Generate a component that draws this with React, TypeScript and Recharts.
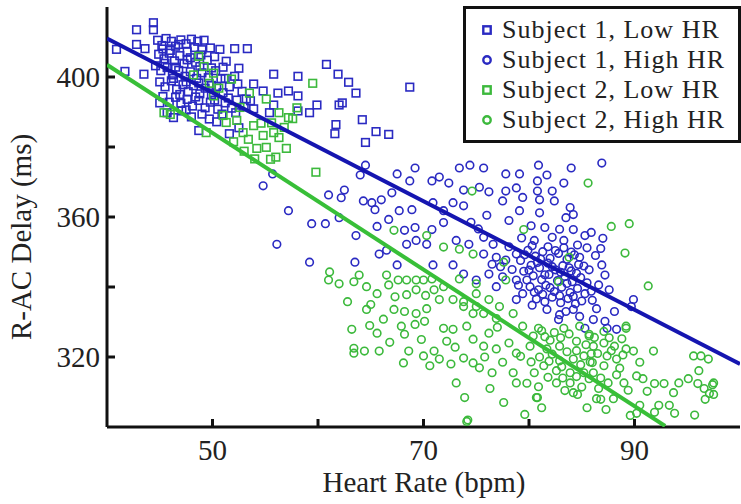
import { ComposedChart, Scatter, XAxis, YAxis } from 'recharts';

const xTicks = [50, 60, 70, 80, 90];
const yTicks = [320, 340, 360, 380, 400];
const xLabelTicks = [50, 70, 90];
const yLabelTicks = [320, 360, 400];

const seriesNames = ['Subject 1, Low HR', 'Subject 1, High HR', 'Subject 2, Low HR', 'Subject 2, High HR'];

// [heart rate, delay]
const s1Low = [
  [40.9, 407.9], [41.7, 401.6], [42.8, 413.5], [42.8, 409.3], [43.6, 408.1], [43.5, 400.8], [44.4, 415.5], [44.4, 413.5],
  [44.8, 410.5], [45.2, 409], [45.6, 411], [46.1, 410.2], [46.5, 408.8], [47.0, 410.6], [47.5, 409.5], [48.0, 410.8], [48.6, 410.2], [49.2, 410.5], [49.8, 408.3],
  [44.9, 406.5], [45.4, 405.2], [45.9, 406.8], [46.4, 404.6], [46.9, 406.1], [47.3, 403.8], [47.9, 405.5], [48.4, 404.2], [48.9, 406.3], [49.5, 404.8], [50.2, 405.8],
  [44.6, 403.2], [45.1, 401.8], [45.7, 402.7], [46.2, 400.6], [46.8, 401.9], [47.4, 400.2], [47.9, 401.5], [48.5, 399.6], [49.0, 401.2], [49.6, 399.8], [50.3, 401.8], [50.8, 399.5],
  [45.0, 398.6], [45.5, 397.2], [46.1, 398.9], [46.6, 396.5], [47.2, 397.8], [47.7, 395.8], [48.2, 397.5], [48.8, 395.2], [49.3, 396.8], [49.9, 394.9], [50.4, 397.3], [51.0, 395.5], [51.6, 397.2],
  [45.3, 394.4], [45.9, 392.8], [46.5, 394.2], [47.0, 392.5], [47.6, 393.6], [48.1, 391.7], [48.7, 393.3], [49.3, 391.2], [49.8, 392.8], [50.5, 390.8], [51.2, 392.6], [51.8, 391.1], [52.3, 393.4],
  [45.0, 392.6], [45.7, 389.8], [46.3, 388.4], [47.1, 390.3], [48.0, 388.6], [48.7, 384.7], [49.7, 388], [50.4, 387.2],
  [45.3, 408.0], [46.0, 407.6], [46.8, 409.3], [47.6, 407.2], [48.3, 408.4], [49.0, 407.8], [45.5, 403.9], [46.5, 402.8], [47.6, 404.9], [48.8, 403.0],
  [49.9, 402.6], [51.0, 402.8], [46.3, 399.6], [47.5, 398.6], [48.7, 398.3], [49.9, 397.6], [51.2, 399.6], [52.4, 398.0], [46.9, 395.0], [48.4, 394.3],
  [50.2, 393.4], [51.5, 394.0], [52.8, 395.9], [53.6, 393.2], [47.5, 390.6], [49.0, 389.4], [50.9, 389.4], [52.2, 389.8], [53.0, 391.6],
  [50.7, 407.9], [51.3, 404.5], [52.1, 408.1], [53.3, 408.1], [52.5, 402.5], [52.1, 400.2], [53.9, 398], [54.8, 396], [53.2, 393.7], [53.9, 390.9], [52.5, 385.5], [51.6, 383.8],
  [55.8, 400.8], [58.1, 400.2], [57.2, 396], [56.2, 395.4], [58.1, 394.6], [55.8, 392], [59.2, 389.8], [58.1, 390.3], [55.4, 389.8],
  [60.8, 403.6], [61.9, 400.8], [62.9, 398.5], [63.6, 395.4], [62.0, 392.0], [62.3, 392.6], [59.9, 392.0], [61.7, 386.4], [61.6, 383.8],
  [64.2, 387.8], [65.5, 384.4], [66.7, 383.6], [64.5, 381.3], [68.7, 397.1],
];

const s2Low = [
  [45.4, 389.8], [46.0, 389.3], [48.7, 405.9], [49.2, 403], [50.1, 401.1], [49.7, 398.2], [50.1, 394.6], [49.4, 384.1], [51.0, 389], [51.3, 387],
  [52.3, 387.6], [52.9, 384.1], [53.9, 386.1], [54.8, 383.3], [54.2, 379.6], [55.1, 379.9], [56.0, 377.1], [57.0, 379.6], [56.3, 382.7], [55.8, 384.1],
  [55.1, 393.7], [56.3, 389.8], [57.2, 388.4], [57.6, 388.1], [59.5, 398.2], [59.8, 372.8], [53.5, 395.4], [52.0, 381.5], [53.0, 378.8], [54.6, 386.8],
  [56.8, 385.6], [58.0, 391.2], [50.6, 396.8], [51.8, 399.4], [48.2, 400.6], [55.5, 376.5], [53.4, 382.2], [54.0, 376.6], [55.6, 386.9], [52.6, 391.3],
];

const s1High = [
  [54.8, 368.9], [55.7, 372.3], [56.1, 352.2], [57.2, 361.8], [59.2, 347.1], [59.4, 358.1], [60.7, 358.1], [61.0, 366.3], [62.0, 359.8], [62.2, 365.5],
  [62.5, 367.7], [63.5, 347.1], [63.6, 354.7], [64.0, 372], [64.5, 374.8],
  [64.3, 364.6], [65.1, 364.1], [66.0, 364.9], [65.4, 362.1], [67.0, 366.9], [67.5, 372.3], [68.7, 370.3], [69.2, 374], [70.8, 370.3], [71.5, 371.4],
  [72.4, 369.7], [73.4, 374], [74.4, 374.8], [75.7, 374], [77.8, 372.3], [79.1, 372.3], [73.8, 367.7], [75.3, 368.5], [76.2, 367.2], [77.8, 367.4],
  [67.7, 361.8], [68.9, 362.1], [70.9, 364.1], [71.9, 361.8], [72.8, 364.1], [73.8, 363.2], [65.6, 357.3], [66.7, 359.3], [68.2, 356.2], [69.2, 357],
  [70.8, 356.4], [71.9, 358.4], [68.4, 352.2], [69.3, 353.3], [70.3, 352.2], [65.8, 349.4], [66.5, 350.5], [67.5, 346.3], [70.9, 346.3], [72.8, 346.3],
  [73.1, 353.3], [74.3, 352.2], [75.7, 354.2], [76.6, 352.2], [75.7, 349.4], [76.9, 348.5], [77.8, 347.7], [78.8, 349.4], [78.1, 351.5], [76.2, 343.7],
  [77.5, 342.9], [78.8, 342], [79.4, 338.1], [78.8, 336.4], [76.9, 340.1], [75.0, 342], [73.8, 343.7], [78.1, 359], [79.1, 361.8], [77.5, 364.6],
  [78.8, 368.3], [79.4, 365.6], [74.5, 358.5], [76.0, 360.5], [75.2, 356.6],
  [80.9, 374.8], [84.0, 374], [86.9, 375.4], [81.7, 372], [83.3, 369.7], [80.8, 370.3], [80.8, 367.4], [82.2, 367.4], [81.0, 364.9], [82.4, 364.6],
  [83.9, 362.7], [84.2, 360.7], [83.5, 359.8], [81.0, 361.2], [81.5, 357], [82.2, 354.2], [84.2, 356.4], [85.3, 354.7], [85.9, 355.6], [87.0, 353.9],
  [83.3, 353.3], [80.5, 353.3],
  [79.9, 350.5], [80.6, 348.8], [81.3, 350.1], [82.0, 348.2], [82.8, 349.6], [83.6, 347.9], [84.3, 349.2], [80.2, 346.2], [81.0, 345.5], [81.8, 346.8],
  [82.5, 344.9], [83.2, 346.1], [84.0, 344.6], [84.7, 346.4], [80.4, 343.2], [81.2, 342.1], [81.9, 343.6], [82.7, 341.8], [83.4, 343.0], [84.1, 341.5],
  [84.9, 342.7], [80.1, 340.1], [80.9, 339.2], [81.6, 340.5], [82.4, 338.7], [83.1, 339.9], [83.9, 338.4], [84.6, 339.6], [85.3, 338.1], [80.7, 336.6],
  [81.5, 335.8], [82.2, 337.1], [83.0, 335.5], [83.7, 336.7], [84.4, 335.2], [79.5, 344.5], [79.2, 347.6],
  [79.6, 349.2], [80.3, 351.8], [81.1, 348.0], [81.8, 351.5], [82.5, 350.4], [83.3, 351.2], [84.0, 350.0], [84.8, 348.5], [85.2, 346.0], [80.0, 344.8],
  [80.8, 347.0], [81.5, 343.5], [82.2, 345.8], [83.0, 344.2], [83.8, 345.5], [84.5, 343.9], [85.5, 341.2], [79.8, 342.0], [80.5, 338.5], [81.3, 337.9],
  [82.0, 339.8], [82.9, 337.5], [83.6, 341.0], [84.2, 337.3], [85.0, 336.0], [79.0, 340.5], [78.4, 345.0], [77.3, 345.8], [76.5, 346.5], [85.9, 338.8],
  [86.4, 333.8], [83.5, 333.0], [80.3, 334.8], [79.3, 354.0], [80.2, 357.5], [82.9, 356.5], [84.6, 352.0], [86.8, 351.0],
  [85.7, 344.9], [86.9, 346.3], [87.2, 343.4], [86.6, 340.6], [87.6, 339.2], [89.9, 336.4], [89.7, 334.4], [88.1, 333], [87.2, 330.2], [87.4, 328.2],
  [88.3, 327.9], [86.1, 330.7], [85.3, 328.2], [84.8, 331.6], [84.2, 333.6], [82.9, 332.1], [81.7, 333.6], [82.8, 330.7], [86.0, 336.2], [85.5, 351.2],
  [86.3, 349.0],
];

const s2High = [
  [67.2, 356.2], [70.3, 354.7], [71.9, 351.4], [73.4, 350.8], [74.7, 349.4], [74.6, 367.4], [77.6, 347.1], [77.8, 342], [75.0, 340.9], [79.5, 356.4],
  [85.6, 369.7], [87.8, 357.3], [89.5, 358.1], [89.1, 349.7], [91.3, 340.3], [83.8, 348.5], [82.8, 341.5], [85.7, 326], [89.2, 328.2],
  [61.1, 344.3], [61.0, 342], [62.0, 340.9], [63.4, 341.5], [63.9, 343.4], [64.6, 340.1], [65.6, 338.1], [66.5, 343.4], [67.6, 342], [68.4, 342],
  [69.3, 342], [70.0, 342], [70.8, 342.3], [71.9, 340.1], [73.4, 342.3], [66.7, 340.6], [67.3, 337.2], [68.4, 337.8], [69.3, 339.2], [70.2, 337.6],
  [71.0, 339.2], [64.6, 333.6], [67.2, 333.6], [68.2, 333], [69.3, 332.4], [70.3, 333.8], [71.5, 336.4], [72.8, 336.4], [73.8, 335.8], [63.2, 327.9],
  [64.9, 329], [65.6, 326.8], [67.9, 328.8], [69.2, 329.3], [70.1, 330.2], [71.9, 328.2], [72.8, 327.9], [74.1, 328.8], [68.2, 326.5], [63.4, 322.5],
  [63.4, 321.1], [64.4, 321.7], [65.8, 321.7], [68.6, 321.7], [70.0, 320.3], [71.0, 321.7], [71.5, 319.4], [68.1, 318.3], [72.6, 318], [73.8, 319.7],
  [74.7, 318.3], [75.3, 316.9], [73.1, 312.6], [73.9, 308.4], [74.2, 302], [77.6, 307], [78.8, 312.6], [74.7, 325.1], [75.7, 323.1], [76.9, 322.3],
  [76.2, 326.8], [76.9, 331], [75.7, 332.4], [75.0, 334.4], [78.1, 324], [78.8, 321.1], [78.5, 315.5], [75.0, 338.1], [76.2, 336.4], [77.2, 334.4],
  [78.5, 332.4], [79.4, 328.8], [74.7, 332.4], [73.8, 334.4], [80.7, 308.4], [79.6, 303.6], [74.1, 301.6],
  [80.9, 328.2], [80.1, 323.1], [81.7, 322.3], [82.9, 323.1], [82.9, 318.9], [84.2, 319.4], [85.2, 320.3], [86.1, 323.1], [87.1, 324], [88.1, 323.1],
  [89.2, 322.3], [89.9, 321.7], [87.4, 320.3], [88.3, 319.4], [87.1, 317.5], [86.1, 315.5], [85.2, 315.5], [83.9, 315.5], [82.6, 316.1], [81.4, 317.5],
  [80.5, 315.5], [82.6, 312.6], [83.9, 312.6], [85.7, 313.8], [86.6, 311], [87.5, 312.6], [86.4, 308.1], [89.0, 312.6], [90.2, 314.6], [90.8, 313.8],
  [91.9, 312.4], [92.8, 312.4], [93.7, 309.8], [94.2, 312.6], [95.1, 313.8], [96.0, 312.4], [96.6, 311], [97.5, 312.6], [97.1, 309.6], [95.6, 320.3],
  [96.3, 320.3], [97.0, 319.4], [96.1, 316.1], [91.8, 321.7], [89.2, 328.8], [80.8, 308.4], [90.5, 306.2], [92.3, 306.2], [93.3, 306.2], [93.8, 303.9],
  [95.7, 303.4], [90.2, 303.9], [91.9, 304.2], [88.0, 308.1], [84.2, 309.8], [83.4, 310.4], [84.6, 309.3], [86.8, 307.9], [89.6, 303.3], [85.7, 326.5],
  [84.8, 328.8], [87.1, 327.3], [83.3, 328.2], [81.5, 325.8], [82.2, 320.8], [83.6, 321.5], [84.9, 317.8], [85.8, 318.6], [83.0, 325.5], [86.5, 321.0],
  [88.6, 316.8], [97.4, 312.1], [97.5, 309.3], [96.7, 307.9],
  [80.4, 326.0], [81.2, 327.5], [82.0, 324.8], [82.4, 327.0], [83.8, 326.6], [84.5, 324.5], [85.4, 323.5], [86.2, 325.6], [87.6, 325.5], [88.8, 325.2],
  [81.0, 320.0], [81.9, 318.8], [83.1, 317.2], [84.5, 321.8], [85.9, 320.9], [87.8, 321.8], [88.9, 320.6], [90.5, 318.5], [80.2, 318.6], [81.8, 314.2],
  [83.2, 314.0], [84.5, 314.4], [86.8, 314.0], [88.3, 314.9], [89.4, 310.5], [91.2, 310.2], [79.2, 320.2], [79.8, 312.5], [80.9, 311.5], [85.0, 311.4],
  [86.0, 318.4], [77.5, 318.5], [77.0, 328.5], [76.5, 315.5], [75.8, 320.0], [73.0, 322.8], [72.2, 324.5], [69.8, 325.0], [66.8, 324.2], [66.2, 330.8],
  [65.0, 335.0], [62.8, 335.8], [70.6, 317.5], [76.3, 311.0], [81.2, 305.5], [85.5, 305.5], [87.3, 305.0],
];

// linear fits, end points
const s1Fit = [[40, 411], [100, 318]];
const s2Fit = [[40, 403.5], [92.9, 300.3]];

const BLUE = '#2a2ac2';
const BLUE_LINE = '#1515b0';
const GREEN = '#3cb93c';
const GREEN_LINE = '#38bf38';
const FONT = '"Liberation Serif", "Times New Roman", serif';
const FS = 29;
const LEGEND_FS = 26;

const toPts = (arr: number[][]) => arr.map(([x, y]) => ({ x, y }));

const square = (color: string) => (p: any) => (
  <rect x={p.cx - 3.8} y={p.cy - 3.8} width={7.6} height={7.6} fill="none" stroke={color} strokeWidth={1.6} />
);
const ring = (color: string) => (p: any) => (
  <circle cx={p.cx} cy={p.cy} r={3.8} fill="none" stroke={color} strokeWidth={1.6} />
);
const noDot = () => <g />;

const tickStyle = { fontSize: FS, fontFamily: FONT, fill: '#222' };

function Legend() {
  const marks = [
    { color: BLUE, sq: true },
    { color: BLUE, sq: false },
    { color: GREEN, sq: true },
    { color: GREEN, sq: false },
  ];
  return (
    <div
      style={{
        position: 'absolute', left: 463, top: 6, width: 278, height: 137, boxSizing: 'border-box',
        border: '3px solid #111', background: '#fff', padding: '6px 0 0 14px', fontFamily: FONT, fontSize: LEGEND_FS,
        color: '#222', lineHeight: '30px', letterSpacing: 1,
      }}
    >
      {seriesNames.map((n, i) => (
        <div key={n} style={{ display: 'flex', alignItems: 'center', whiteSpace: 'nowrap', height: 30 }}>
          <svg width={14} height={14} style={{ marginRight: 8, flex: 'none' }}>
            {marks[i].sq ? (
              <rect x={3.3} y={3.3} width={7.4} height={7.4} fill="none" stroke={marks[i].color} strokeWidth={2.4} />
            ) : (
              <circle cx={7} cy={7} r={3.7} fill="none" stroke={marks[i].color} strokeWidth={2.4} />
            )}
          </svg>
          {n}
        </div>
      ))}
    </div>
  );
}

export default function App() {
  return (
    <div style={{ position: 'absolute', left: 0, top: 0, width: 741, height: 504, background: '#fff' }}>
      <ComposedChart width={741} height={504} margin={{ top: 7, right: 1, bottom: 0, left: 0 }}>
        <XAxis
          xAxisId="top" orientation="top" type="number" domain={[40, 100]} height={0}
          tick={false} tickLine={false} axisLine={{ stroke: '#111', strokeWidth: 3 }}
        />
        <YAxis
          yAxisId="right" orientation="right" type="number" domain={[300, 420]} width={0}
          tick={false} tickLine={false} axisLine={{ stroke: '#111', strokeWidth: 3 }}
        />
        <XAxis
          dataKey="x" type="number" domain={[40, 100]} allowDataOverflow ticks={xTicks} height={77}
          tickSize={-8} tickMargin={20} tick={tickStyle}
          tickFormatter={(v: number) => (xLabelTicks.includes(v) ? String(v) : '')}
          axisLine={{ stroke: '#111', strokeWidth: 3 }} tickLine={{ stroke: '#111', strokeWidth: 3 }}
          label={{
            content: () => (
              <text x={424} y={492} textAnchor="middle" fontSize={FS} fontFamily={FONT} fill="#222">Heart Rate (bpm)</text>
            ),
          }}
        />
        <YAxis
          dataKey="y" type="number" domain={[300, 420]} allowDataOverflow ticks={yTicks} width={107}
          tickSize={-8} tickMargin={15} tick={tickStyle}
          tickFormatter={(v: number) => (yLabelTicks.includes(v) ? String(v) : '')}
          axisLine={{ stroke: '#111', strokeWidth: 3 }} tickLine={{ stroke: '#111', strokeWidth: 3 }}
          label={{
            content: () => (
              <text x={31} y={237} textAnchor="middle" fontSize={FS} fontFamily={FONT} fill="#222" transform="rotate(-90 31 237)">
                R-AC Delay (ms)
              </text>
            ),
          }}
        />
        <Scatter name={seriesNames[0]} data={toPts(s1Low)} shape={square(BLUE)} isAnimationActive={false} />
        <Scatter name={seriesNames[1]} data={toPts(s1High)} shape={ring(BLUE)} isAnimationActive={false} />
        <Scatter name={seriesNames[2]} data={toPts(s2Low)} shape={square(GREEN)} isAnimationActive={false} />
        <Scatter name={seriesNames[3]} data={toPts(s2High)} shape={ring(GREEN)} isAnimationActive={false} />
        <Scatter data={toPts(s1Fit)} shape={noDot} line={{ stroke: BLUE_LINE, strokeWidth: 4 }} isAnimationActive={false} />
        <Scatter data={toPts(s2Fit)} shape={noDot} line={{ stroke: GREEN_LINE, strokeWidth: 4 }} isAnimationActive={false} />
      </ComposedChart>
      <Legend />
    </div>
  );
}
